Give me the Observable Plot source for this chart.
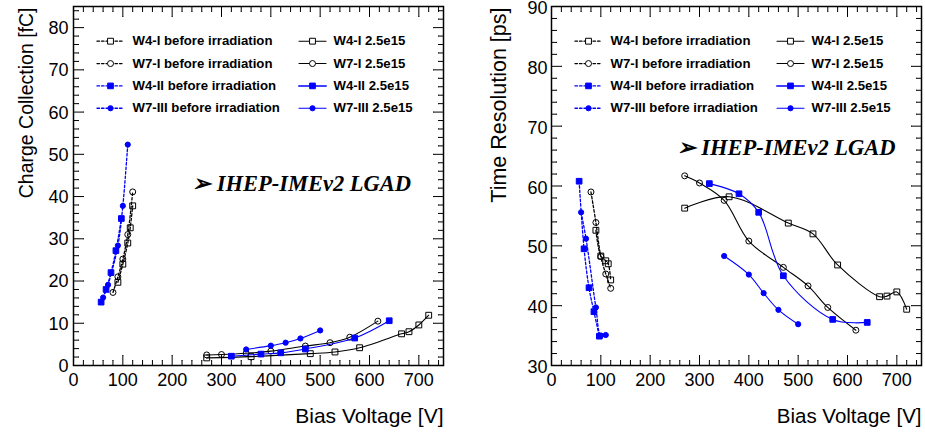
<!DOCTYPE html>
<html><head><meta charset="utf-8">
<script src="https://cdn.jsdelivr.net/npm/d3@7"></script>
<script src="https://cdn.jsdelivr.net/npm/@observablehq/plot@0.6"></script>
<style>
body{margin:0;background:#fff;}
#wrap{position:relative;width:925px;height:434px;overflow:hidden;background:#fff;}
#wrap svg{position:absolute;top:0;}
</style></head><body><div id="wrap"></div>
<script>
// ---------- data ----------
// before irradiation
const vW4I_pre   = [90, 100, 110, 115, 120];
const ccW4I_pre  = [19.7, 24.0, 29.0, 32.6, 37.8];
const trW4I_pre  = [52.6, 48.3, 47.5, 47.0, 44.3];

const vW7I_pre   = [80, 90, 100, 110, 120];
const ccW7I_pre  = [17.3, 21.0, 25.2, 31.0, 41.1];
const trW7I_pre  = [59.0, 53.9, 48.2, 45.3, 42.9];

const vW4II_pre  = [56, 66, 76, 86, 97];
const ccW4II_pre = [15.0, 18.0, 22.0, 27.2, 34.8];
const trW4II_pre = [60.8, 49.5, 43.0, 39.0, 34.9];

const vW7III_pre  = [60, 70, 90, 100, 110];
const ccW7III_pre = [16.1, 19.1, 28.4, 37.8, 52.3];
const trW7III_pre = [55.6, 51.2, 39.7, 35.0, 35.1];

// 2.5e15 irradiated
const vW4I_irr  = [270, 360, 480, 530, 580, 665, 680, 700, 720];
const ccW4I_irr = [1.8, 2.1, 2.8, 3.2, 4.2, 7.5, 8.0, 9.6, 11.9];
const trW4I_irr = [56.3, 58.2, 53.8, 52.0, 46.8, 41.5, 41.6, 42.3, 39.4];

const vW7I_irr  = [270, 300, 350, 400, 470, 520, 560, 617];
const ccW7I_irr = [2.5, 2.6, 2.9, 3.4, 4.6, 5.4, 6.7, 10.5];
const trW7I_irr = [61.7, 60.5, 57.6, 50.8, 46.4, 43.3, 39.7, 35.9];

const vW4II_irr  = [320, 380, 420, 470, 570, 640];
const ccW4II_irr = [2.2, 2.7, 3.0, 3.9, 6.5, 10.6];
const trW4II_irr = [60.4, 58.7, 55.6, 45.0, 37.7, 37.2];

const vW7III_irr  = [350, 400, 430, 460, 500];
const ccW7III_irr = [3.8, 4.7, 5.4, 6.4, 8.3];
const trW7III_irr = [48.3, 45.2, 42.1, 39.3, 36.9];

// axis ticks
const xMajor = [0, 100, 200, 300, 400, 500, 600, 700];
const ccMajor = [0, 10, 20, 30, 40, 50, 60, 70, 80];
const trMajor = [30, 40, 50, 60, 70, 80, 90];

const legendNames = [
  "W4-I before irradiation", "W7-I before irradiation", "W4-II before irradiation", "W7-III before irradiation",
  "W4-I 2.5e15", "W7-I 2.5e15", "W4-II 2.5e15", "W7-III 2.5e15"
];
const stampText = "\u27A2 IHEP-IMEv2 LGAD";

// ---------- styling ----------
const FONT = "'Liberation Sans', Arial, Helvetica, sans-serif";
const SERIF = "'Liberation Serif', 'Times New Roman', serif";
const BLUE = "#0000ff";

const seriesDefs = [
  {name: legendNames[0], v: vW4I_pre,   cc: ccW4I_pre,   tr: trW4I_pre,   color: "black", symbol: "square", filled: false, pre: true,  r: 3.3},
  {name: legendNames[1], v: vW7I_pre,   cc: ccW7I_pre,   tr: trW7I_pre,   color: "black", symbol: "circle", filled: false, pre: true,  r: 3.0},
  {name: legendNames[2], v: vW4II_pre,  cc: ccW4II_pre,  tr: trW4II_pre,  color: BLUE,    symbol: "square", filled: true,  pre: true,  r: 3.2},
  {name: legendNames[3], v: vW7III_pre, cc: ccW7III_pre, tr: trW7III_pre, color: BLUE,    symbol: "circle", filled: true,  pre: true,  r: 2.6},
  {name: legendNames[4], v: vW4I_irr,   cc: ccW4I_irr,   tr: trW4I_irr,   color: "black", symbol: "square", filled: false, pre: false, r: 3.3},
  {name: legendNames[5], v: vW7I_irr,   cc: ccW7I_irr,   tr: trW7I_irr,   color: "black", symbol: "circle", filled: false, pre: false, r: 3.0},
  {name: legendNames[6], v: vW4II_irr,  cc: ccW4II_irr,  tr: trW4II_irr,  color: BLUE,    symbol: "square", filled: true,  pre: false, r: 3.2},
  {name: legendNames[7], v: vW7III_irr, cc: ccW7III_irr, tr: trW7III_irr, color: BLUE,    symbol: "circle", filled: true,  pre: false, r: 2.6}
];

const xMinor = d3.range(0, 751, 20).filter(d => d % 100 !== 0);

function tickMarks(values, channel, anchor, rotate, length) {
  const o = {frameAnchor: anchor, rotate, length, anchor: "start", r: 0, stroke: "black", strokeWidth: 1};
  o[channel] = d => d;
  return Plot.vector(values, o);
}

function makePanel(cfg) {
  const marks = [];
  marks.push(Plot.frame({stroke: "black", strokeWidth: 1.5}));
  // ticks inside the frame, on all four sides
  marks.push(tickMarks(xMajor, "x", "bottom", 0, 10));
  marks.push(tickMarks(xMinor, "x", "bottom", 0, 5));
  marks.push(tickMarks(xMajor, "x", "top", 180, 10));
  marks.push(tickMarks(xMinor, "x", "top", 180, 5));
  marks.push(tickMarks(cfg.yMajor, "y", "left", 90, 10));
  marks.push(tickMarks(cfg.yMinor, "y", "left", 90, 5));
  marks.push(tickMarks(cfg.yMajor, "y", "right", -90, 10));
  marks.push(tickMarks(cfg.yMinor, "y", "right", -90, 5));
  // tick labels
  marks.push(Plot.axisX(xMajor, {anchor: "bottom", tickSize: 0, tickPadding: 8, fontSize: 18, label: null, fill: "black"}));
  marks.push(Plot.axisY(cfg.yMajor, {anchor: "left", tickSize: 0, tickPadding: cfg.yPad, fontSize: 18, label: null, fill: "black", dy: cfg.yLabelDy}));
  // axis titles
  marks.push(Plot.text([cfg.yTitle], {text: d => d, frameAnchor: "top-left", rotate: -90, textAnchor: "end", lineAnchor: "middle",
    dx: cfg.yTitleDx, dy: 1, fontSize: cfg.yTitleSize, fill: "black"}));
  marks.push(Plot.text(["Bias Voltage [V]"], {text: d => d, frameAnchor: "bottom-right", textAnchor: "end", lineAnchor: "bottom",
    dy: 57.5, fontSize: cfg.xTitleSize, fill: "black"}));
  // data
  for (const s of seriesDefs) {
    const pts = s.v.map((v, i) => ({v, y: s[cfg.key][i]}));
    marks.push(Plot.line(pts, {x: "v", y: "y", stroke: s.color, strokeWidth: s.pre ? 1.3 : 1.1,
      strokeDasharray: s.pre ? "2.5,2" : null, curve: "catmull-rom"}));
    marks.push(Plot.dot(pts, {x: "v", y: "y", symbol: s.symbol, r: s.r,
      fill: s.filled ? s.color : "none", stroke: s.color, strokeWidth: 1}));
  }
  // legend
  seriesDefs.forEach((s, i) => {
    const col = s.pre ? 0 : 1;
    const row = i % 4;
    const lx = col === 0 ? 23.5 : 225.5;
    const ly = 34.7 + row * 22.35;
    marks.push(Plot.vector([0], {frameAnchor: "top-left", dx: lx, dy: ly, rotate: 90, length: 27, anchor: "start", r: 0,
      stroke: s.color, strokeWidth: s.pre ? 1.3 : (s.filled && s.symbol === "square" ? 2 : 1.1),
      strokeOpacity: (!s.pre && s.filled && s.symbol === "square") ? 0.75 : 1,
      strokeDasharray: s.pre ? "2.5,2" : null}));
    marks.push(Plot.dot([0], {frameAnchor: "top-left", dx: lx + 13.5, dy: ly, symbol: s.symbol, r: s.r,
      fill: s.filled ? s.color : "white", stroke: s.color, strokeWidth: 1}));
    marks.push(Plot.text([s.name], {text: d => d, frameAnchor: "top-left", dx: col === 0 ? 59 : 260, dy: ly,
      textAnchor: "start", lineAnchor: "middle", fontSize: 13.2, fontWeight: "bold", fill: "black"}));
  });
  // stamp
  marks.push(Plot.text([stampText], {text: d => d, frameAnchor: "top-left", dx: cfg.stampDx, dy: cfg.stampDy,
    textAnchor: "start", lineAnchor: "bottom", fontSize: 22.5, fontWeight: "bold", fontStyle: "italic",
    fontFamily: SERIF, fill: "black"}));

  return Plot.plot({
    width: cfg.width, height: 434,
    marginLeft: cfg.marginLeft, marginRight: cfg.marginRight, marginTop: 6, marginBottom: 69,
    style: {fontFamily: FONT, background: "white", overflow: "visible"},
    x: {domain: [0, 750]},
    y: {domain: cfg.yDomain},
    marks
  });
}

const left = makePanel({
  key: "cc", yDomain: [0, 85], yMajor: ccMajor, yMinor: d3.range(0, 85, 2).filter(d => d % 10 !== 0),
  yTitle: "Charge Collection [fC]", yTitleDx: -47, yTitleSize: 19.5, xTitleSize: 21, yPad: 5, yLabelDy: 0.7,
  width: 462, marginLeft: 73, marginRight: 19, stampDx: 118.5, stampDy: 184
});
const right = makePanel({
  key: "tr", yDomain: [30, 90], yMajor: trMajor, yMinor: d3.range(30, 91, 2).filter(d => d % 10 !== 0),
  yTitle: "Time Resolution [ps]", yTitleDx: -52, yTitleSize: 21.5, xTitleSize: 20.5, yPad: 4, yLabelDy: 1.8,
  width: 463, marginLeft: 89, marginRight: 4, stampDx: 125, stampDy: 148
});
left.style.left = "0px";
right.style.left = "462px";
document.getElementById("wrap").append(left, right);
</script>
</body></html>
